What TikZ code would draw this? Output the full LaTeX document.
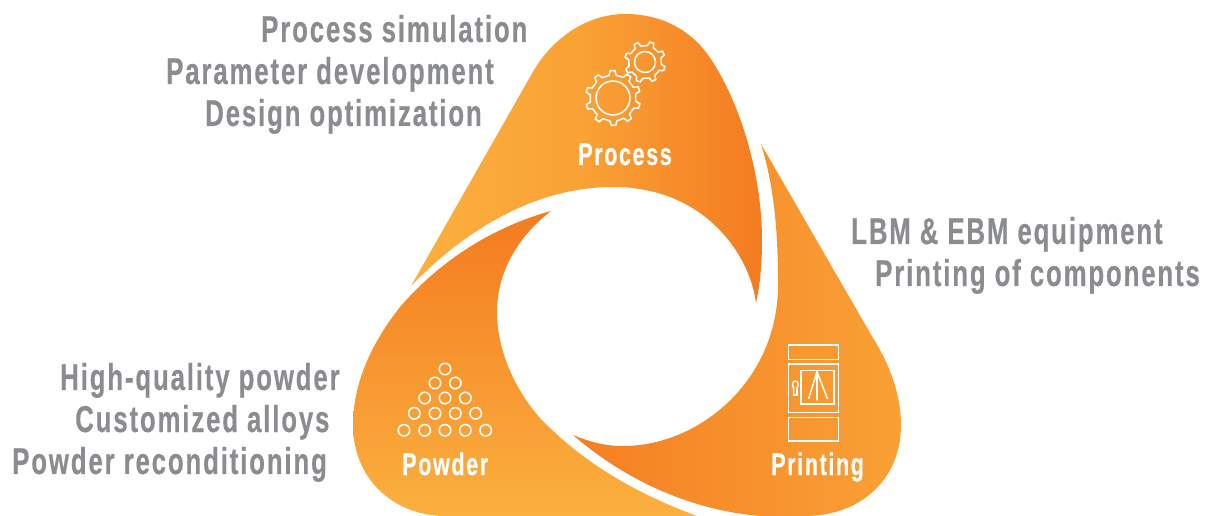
\documentclass[tikz,border=0pt]{standalone}
\usepackage{fontspec}
\setmainfont{Liberation Sans}[FakeStretch=0.69,LetterSpace=5,BoldFeatures={FakeBold=0.4}]
\definecolor{txtgray}{HTML}{8A8C8F}
\definecolor{olight}{HTML}{FBB03F}
\definecolor{omid}{HTML}{F9A135}
\definecolor{odark}{HTML}{F47B20}
\definecolor{oprint}{HTML}{F57F22}
\tikzset{
 sidetext/.style={anchor=base west,inner sep=0pt,text=txtgray,font=\bfseries\fontsize{28}{30}\selectfont},
 bladelabel/.style={anchor=base west,inner sep=0pt,text=white,font=\bfseries\fontsize{23.5}{25}\selectfont},
 icon/.style={draw=white,line width=1.15pt,line join=miter},
 pellet/.style={circle,draw=white,line width=1.15pt,minimum size=8.6pt,inner sep=0pt},
}
\newcommand{\gearicon}[5]{% cx cy root tip teeth
 \foreach \k in {1,...,#5}{
  \pgfmathsetmacro{\st}{360/#5}
  \pgfmathsetmacro{\ao}{(\k-1)*\st+8}
  \draw[icon,line cap=round] ({#1+#3*cos(\ao)},{#2+#3*sin(\ao)})
   -- ({#1+#4*cos(\ao+.12*\st)},{#2+#4*sin(\ao+.12*\st)})
   -- ({#1+#4*cos(\ao+.38*\st)},{#2+#4*sin(\ao+.38*\st)})
   -- ({#1+#3*cos(\ao+.5*\st)},{#2+#3*sin(\ao+.5*\st)})
   -- ({#1+#3*cos(\ao+\st)},{#2+#3*sin(\ao+\st)});
 }}
\begin{document}
\begin{tikzpicture}[x=0.75pt,y=-0.75pt]
\useasboundingbox (0,0) rectangle (1210,516);
% Process blade
\shade[left color=olight,right color=odark,middle color=omid]
 (411,286) -- (534,70) .. controls (555,35) and (590,14) .. (625,14)
 .. controls (662,14) and (690,30) .. (708,55)
 .. controls (740,100) and (762,175) .. (762,240)
 .. controls (762,265) and (760,285) .. (756,303)
 .. controls (750,255) and (705,187) .. (613,187)
 .. controls (540,187) and (470,225) .. (411,286) -- cycle;
% Powder blade
\shade[top color=odark,bottom color=olight]
 (551,211) .. controls (500,225) and (445,255) .. (400,307)
 .. controls (370,345) and (353,385) .. (353,425)
 .. controls (353,480) and (395,516) .. (445,516)
 -- (697,516) .. controls (640,495) and (585,465) .. (540,418)
 .. controls (515,390) and (497,350) .. (497,312)
 .. controls (497,270) and (520,235) .. (551,211) -- cycle;
% Printing blade
\shade[shading angle=60,left color=oprint,right color=omid]
 (761,144) -- (873,338) .. controls (890,365) and (901,395) .. (901,425)
 .. controls (901,480) and (860,516) .. (805,516)
 -- (760,516) .. controls (690,510) and (625,480) .. (573,435)
 .. controls (590,442) and (605,446) .. (623,446)
 .. controls (700,446) and (778,380) .. (778,285)
 .. controls (778,235) and (775,190) .. (761,144) -- cycle;
% gears
\gearicon{613}{98}{23}{27.5}{10}
\draw[icon] (613,98) circle[radius=17];
\gearicon{645}{62}{16.5}{20.5}{8}
\draw[icon] (645,62) circle[radius=10.5];
% printer
\draw[icon] (788.3,345) rectangle (838.7,359.3);
\draw[icon] (788.3,364) rectangle (838.7,412.7);
\draw[icon] (801,370.7) rectangle (834,404);
\draw[icon] (788.3,417.7) rectangle (838.7,441);
\draw[icon,line cap=round] (808.7,398.3) -- (817,371.7) -- (827.3,398.3) (817,371.7) -- (817,400);
\draw[icon] (793.6,395) -- (793.6,388) .. controls (792,386) and (792,381) .. (795.3,381) .. controls (798.6,381) and (798.6,386) .. (797,388) -- (797,395) -- cycle;
% powder pellets
\foreach \n/\x/\y in {a/445/369,b/435/383,c/455.3/383,d/424.7/398,e/445/398,f/465.3/398,g/414.3/413.3,h/435/413.3,i/455.3/413.3,j/475.7/413.3,k/404/430.3,l/424.7/430.3,m/445/430.3,o/465.3/430.3,p/485.7/430.3}
 \node[pellet] (pel\n) at (\x,\y) {};
% labels
\node[bladelabel] (lproc) at (578,165) {Process};
\node[bladelabel] (lprint) at (771,475) {Printing};
\node[bladelabel] (lpow) at (402,475) {Powder};
\node[sidetext] (t1) at (261,42) {Process simulation};
\node[sidetext] (t2) at (166,84) {Parameter development};
\node[sidetext] (t3) at (205,126) {Design optimization};
\node[sidetext] (t4) at (851,244) {LBM \& EBM equipment};
\node[sidetext] (t5) at (875,286) {Printing of components};
\node[sidetext] (t6) at (60,390) {High-quality powder};
\node[sidetext] (t7) at (75,432) {Customized alloys};
\node[sidetext] (t8) at (12,474) {Powder reconditioning};
\end{tikzpicture}
\end{document}
